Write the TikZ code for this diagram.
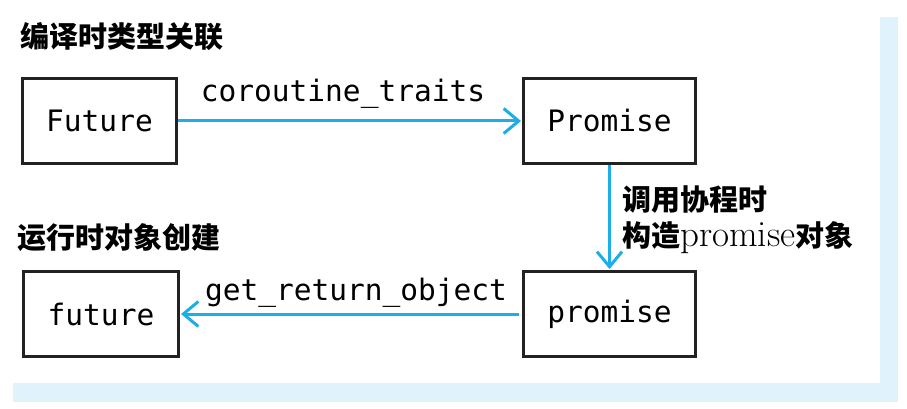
\documentclass[tikz,border=0pt]{standalone}
\usepackage{fontspec}
\setmonofont{DejaVu Sans Mono}
\newfontfamily\cjk{Noto Sans CJK SC}
\usetikzlibrary{arrows.meta}
\definecolor{arrowblue}{HTML}{1CAEE6}
\definecolor{bandblue}{HTML}{E0F3FC}
\definecolor{boxline}{HTML}{222222}
\tikzset{
  box/.style={draw=boxline, line width=3pt, minimum height=85pt, inner sep=0pt,
    font=\ttfamily\fontsize{29.5}{33}\selectfont},
  conn/.style={draw=arrowblue, line width=3pt,
    -{Straight Barb[length=15pt,width=25pt,line width=3pt]}},
  monolabel/.style={anchor=base, inner sep=0pt, font=\ttfamily\fontsize{29.5}{33}\selectfont},
  title/.style={anchor=base west, inner sep=0pt, font=\cjk\bfseries\fontsize{29}{33}\selectfont},
  band/.style={fill=bandblue, draw=none}
}
\begin{document}
\begin{tikzpicture}[x=1pt,y=-1pt]
\useasboundingbox (0,0) rectangle (907,409);
\fill[white] (0,0) rectangle (907,409);
% light blue frame bands
\path[band] (880,17) rectangle (898,402);
\path[band] (13,383) rectangle (898,402);
% titles
\node[title] (t1) at (20,48) {编译时类型关联};
\node[title] (t2) at (17,248) {运行时对象创建};
% boxes
\node[box, minimum width=154pt] (Future) at (99.5,121) {Future};
\node[box, minimum width=172pt] (Promise) at (609.5,121) {Promise};
\node[box, minimum width=155pt] (future) at (101,314) {future};
\node[box, minimum width=172pt] (promise) at (609.5,314) {promise};
% connectors
\draw[conn, shorten >=1pt] (Future.east) -- (Promise.west);
\draw[conn, shorten >=1pt] (Promise.south) -- (promise.north);
\draw[conn, shorten <=3pt, shorten >=1pt] (promise.west) -- (future.east);
% labels
\node[monolabel] (l1) at (343,102) {coroutine\_traits};
\node[monolabel] (l3) at (356,300) {get\_return\_object};
\node[anchor=base west, inner sep=0pt, font=\cjk\bfseries\fontsize{29}{33}\selectfont] (l2a) at (622,210) {调用协程时};
\node[anchor=base west, inner sep=0pt] (l2b) at (622,246)
  {{\cjk\bfseries\fontsize{29}{33}\selectfont 构造}{\fontsize{37}{41}\selectfont promise}{\cjk\bfseries\fontsize{29}{33}\selectfont 对象}};
\end{tikzpicture}
\end{document}
